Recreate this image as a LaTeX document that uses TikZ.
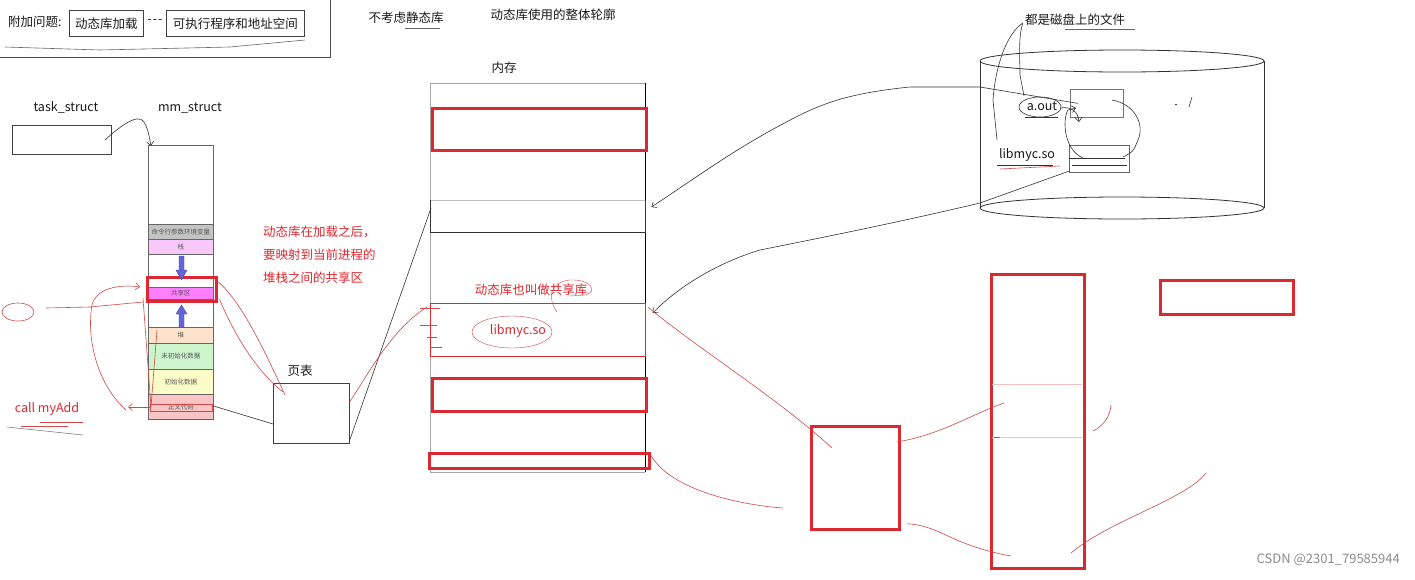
\documentclass[tikz,border=0pt]{standalone}
\usepackage{fontspec}
\setmainfont{Noto Sans CJK SC}
\usetikzlibrary{arrows.meta,calc}
\definecolor{rbox}{HTML}{DC2830}
\definecolor{scrib}{HTML}{D04848}
\definecolor{txt}{HTML}{1A1A1A}
\definecolor{cmdc}{HTML}{C4C4C4}
\definecolor{stackc}{HTML}{F8C8F8}
\definecolor{shrc}{HTML}{FF80FF}
\definecolor{heapc}{HTML}{FDE2CC}
\definecolor{bssc}{HTML}{CCF5CC}
\definecolor{datac}{HTML}{FCFCC8}
\definecolor{textc}{HTML}{F8C4C4}
\definecolor{bluec}{HTML}{6464D8}
\tikzset{
  lbl/.style={font=\fontsize{12.5}{14}\selectfont, text=txt, inner sep=0pt},
  redlbl/.style={font=\fontsize{12.5}{14}\selectfont, text=rbox, inner sep=0pt},
  tinylbl/.style={font=\fontsize{6.5}{7}\selectfont, text=black!65, inner sep=0pt},
  plainbox/.style={draw=black!75, line width=0.8pt, inner sep=0pt, anchor=north west},
  thickred/.style={draw=rbox, line width=2.6pt, inner sep=0pt, anchor=north west},
  thinred/.style={draw=rbox, line width=0.7pt, inner sep=0pt, anchor=north west},
  band/.style={draw=black!60, line width=0.6pt, inner sep=0pt, anchor=north west, minimum width=65},
  scr/.style={draw=scrib, line width=0.6pt},
  hand/.style={draw=black!80, line width=0.6pt},
  tip/.style={-{Straight Barb[length=4pt,width=7pt]}},
}
\begin{document}
\begin{tikzpicture}[x=1pt,y=-1pt]
\useasboundingbox[fill=white] (0,0) rectangle (1415,579);

% ---------- top-left question box ----------
\draw[black!70, line width=0.8pt] (0,57) -- (330,57) -- (330,0);
\node[lbl, anchor=west] (q) at (8,22) {附加问题:};
\node[plainbox, minimum width=74, minimum height=26] (qa) at (69,10) {};
\node[lbl] at (qa.center) {动态库加载};
\node[lbl] (dash) at (155,22) {{-}\kern1pt{-}\kern1pt{-}};
\node[plainbox, minimum width=138, minimum height=26] (qb) at (166,10) {};
\node[lbl] at (qb.center) {可执行程序和地址空间};
\draw[hand, black!60] (5,47) -- (100,50) -- (230,47) -- (305,40);

\node[lbl] (nostatic) at (406,18) {不考虑静态库};
\draw[hand, black!60] (405,28) -- (440,28);
\node[lbl] (title) at (553,15) {动态库使用的整体轮廓};

% ---------- task_struct / mm_struct ----------
\node[lbl] (tslbl) at (66,107) {task\_struct};
\node[plainbox, minimum width=99, minimum height=29] (task) at (12,125) {};
\node[lbl] (mmlbl) at (190,108) {mm\_struct};

\node[band, minimum height=79] (mmtop) at (148,145) {};
\node[band, minimum height=15, fill=cmdc] (cmd) at (148,224) {};
\node[tinylbl] at (cmd.center) {命令行参数环境变量};
\node[band, minimum height=15, fill=stackc] (stk) at (148,239) {};
\node[tinylbl] at (stk.center) {栈};
\node[band, minimum height=22] (gap1) at (148,254) {};
\node[band, minimum height=11] (shrtop) at (148,276) {};
\node[band, minimum height=12, fill=shrc] (shr) at (148,287) {};
\node[tinylbl] at (shr.center) {共享区};
\node[band, minimum height=28] (gap2) at (148,299) {};
\node[band, minimum height=16, fill=heapc] (heap) at (148,327) {};
\node[tinylbl] at (heap.center) {堆};
\node[band, minimum height=26, fill=bssc] (bss) at (148,343) {};
\node[tinylbl] at (bss.center) {未初始化数据};
\node[band, minimum height=25, fill=datac] (dat) at (148,369) {};
\node[tinylbl] at (dat.center) {初始化数据};
\node[band, minimum height=25, fill=textc] (code) at (148,394) {};
\node[tinylbl] at (code.center) {正文代码};
\draw[scrib, line width=0.5pt] (150,404) rectangle (212,411);
\node[thickred, minimum width=69, minimum height=24] (shrbox) at (146,276) {};

% blue arrows
\fill[bluec, draw=bluec!70!black, line width=0.4pt] (179,256) -- (184,256) -- (184,270) -- (187,270) -- (181.5,280) -- (176,270) -- (179,270) -- cycle;
\fill[bluec, draw=bluec!70!black, line width=0.4pt] (179,327) -- (184,327) -- (184,314) -- (187,314) -- (181.5,305) -- (176,314) -- (179,314) -- cycle;

% task -> mm
\draw[hand, tip] (105,140) .. controls (118,128) and (138,112) .. (144,122) .. controls (148,130) .. (151,146);

% ---------- red explanation ----------
\node[redlbl, anchor=west] (exp1) at (263,232) {动态库在加载之后，};
\node[redlbl, anchor=west] (exp2) at (263,255) {要映射到当前进程的};
\node[redlbl, anchor=west] (exp3) at (263,278) {堆栈之间的共享区};

% ---------- page table ----------
\node[lbl] (ptlbl) at (300,371) {页表};
\node[plainbox, minimum width=76, minimum height=60] (pt) at (273,383) {};
\draw[hand] (code.east |- 0,406) -- (pt.west |- 0,424);

% ---------- memory ----------
\node[lbl] (memlbl) at (504,68) {内存};
\draw[black!35, line width=0.8pt] (645,83) -- (430,83) -- (430,472) -- (645,472);
\draw[black, line width=0.9pt] (645,83) -- (645,472);
\node[thickred, minimum width=214, minimum height=42] (m1) at (431,107) {};
\node[inner sep=0pt, anchor=north west, minimum width=215, minimum height=32] (mblk) at (430,200) {};
\draw[black!25, line width=1pt] (mblk.north west) -- (mblk.north east);
\draw[black!80, line width=0.9pt] (mblk.south west) -- (mblk.south east) -- (mblk.north east);
\draw[black!80, line width=0.9pt] (mblk.south west) -- (mblk.north west);
\node[redlbl] (alias) at (531,290) {动态库也叫做共享库};
\node[thinred, minimum width=215, minimum height=53] (mlib) at (430,303) {};
\node[redlbl] (mlibtxt) at (518,331) {libmyc.so};
\draw[scrib] (512,332) ellipse [x radius=40, y radius=16];
\draw[scrib] (557,312) .. controls (548,300) and (548,282) .. (570,280) .. controls (592,279) and (598,292) .. (585,295) -- (570,296);
\node[thickred, minimum width=214, minimum height=33] (m3) at (431,377) {};
\node[thickred, minimum width=220, minimum height=15] (m4) at (428,452) {};
\coordinate (inA) at ($(mblk.north east)+(6,7)$);
\coordinate (inB) at ($(mlib.north east)+(7,10)$);

% page table -> memory
\draw[hand] ($(pt.south east)+(0,-4)$) -- ($(mblk.north west)+(1,8)$);

% ---------- disk ----------
\draw[black!80, line width=0.8pt] (1122,61) ellipse [x radius=142, y radius=11];
\draw[black!80, line width=0.8pt] (1122,208) ellipse [x radius=142, y radius=11];
\draw[black!80, line width=0.8pt] (980,61) -- (980,208);
\draw[black!80, line width=0.8pt] (1264,61) -- (1264,208);
\node[lbl] (disklbl) at (1075,20) {都是磁盘上的文件};
\draw[hand, black!60] (1065,29) -- (1135,29);
\node[lbl] (aout) at (1042,106) {a.out};
\draw[hand] (1040,107) ellipse [x radius=21, y radius=10];
\draw[hand, line width=0.9pt] (1025,117) -- (1058,117);
\node[plainbox, draw=black!55, minimum width=53, minimum height=28] (abox) at (1070,89) {};
\node[lbl] (libtxt) at (1027,155) {libmyc.so};
\draw[hand, line width=0.9pt] (997,165) -- (1053,165);
\draw[scr] (1000,169) -- (1060,166);
\node[plainbox, draw=black!60, minimum width=60, minimum height=27] (lbox) at (1069,145) {};
\draw[hand, line width=0.9pt] (lbox.west |- 0,158) -- (1125,158);
\draw[hand, line width=0.9pt] (1072,165) -- (1127,165);
\draw[hand] (1175,104) -- (1177,104);
\draw[hand] (1192,97) -- (1189,107);

% label -> files
\draw[hand] ($(disklbl.west)+(-2,3)$) .. controls (1018,38) and (1020,60) .. (1020,75) -- (1024,96);
\draw[hand] ($(disklbl.west)+(-2,3)$) .. controls (1005,35) and (995,70) .. (993,100) -- (997,140);
% inner curves
\draw[hand] (1112,100) .. controls (1135,104) and (1145,125) .. (1138,140) .. controls (1133,152) .. (1123,157);
\draw[hand, tip] (1083,158) .. controls (1064,150) and (1062,120) .. (1068,110) -- (1076,108);
\draw[hand, tip] (1060,108) .. controls (1072,106) and (1078,112) .. (1079,122);

% disk -> memory arrows
\draw[hand, tip] ($(abox.west)+(8,0)$) -- (980,87) -- (910,87) .. controls (860,92) and (830,100) .. (800,115) .. controls (740,145) and (700,175) .. (inA);
\draw[hand, tip] ($(lbox.south west)+(1,-2)$) -- (980,203) .. controls (900,222) and (820,238) .. (760,250) .. controls (720,262) and (680,285) .. (inB);

% ---------- right red boxes ----------
\node[thickred, minimum width=88, minimum height=103] (sbox) at (810,425) {};
\node[thickred, minimum width=93, minimum height=294] (tbox) at (990,273) {};
\draw[rbox!30, line width=1pt] (992,384) -- (1082,384);
\draw[rbox!30, line width=1pt] (992,437) -- (1082,437);
\draw[scrib] (994,437) -- (1000,437);
\node[thickred, minimum width=133, minimum height=34] (rbox1) at (1159,279) {};

% ---------- red scribbles ----------
% left side
\draw[scr] (18,312) ellipse [x radius=16, y radius=9];
\draw[scr] (46,308) -- (90,307) -- (143,302);
\draw[scr, tip] (126,410) .. controls (98,385) and (86,340) .. (92,305) .. controls (96,288) and (120,284) .. (140,287);
\draw[scr] (143,298) -- (151,407);
\draw[scr] (157,330) -- (151,407);
\draw[scr, tip] (150,407) -- (128,407);
\node[redlbl] (call) at (47,409) {call myAdd};
\draw[scr] (40,422) -- (83,422);
\draw[scr] (21,426) -- (68,426);
\draw[hand, black!50] (7,427) -- (83,435);
% shared -> page table
\draw[scr] ($(shrbox.east)+(0,-8)$) .. controls (240,300) and (262,345) .. (285,395);
\draw[scr] ($(shrbox.east)+(2,10)$) .. controls (232,330) and (255,370) .. (283,392);
% page table -> memory lib
\draw[scr] ($(pt.east)+(0,-12)$) .. controls (365,380) and (390,330) .. (427,307);
\draw[scr] (420,308) -- (440,308);
\draw[scr] (420,325) -- (437,325);
\draw[scr] (427,337) -- (437,337);
\draw[scr] (430,347) -- (442,347);
% memory -> right boxes
\draw[scr] ($(mlib.north east)+(2,4)$) .. controls (700,350) and (780,400) .. (832,448);
\draw[scr] ($(m4.east)+(0,-6)$) .. controls (670,490) and (740,505) .. (783,508);
\draw[scr] ($(sbox.north east)+(-4,17)$) .. controls (940,435) and (970,415) .. (1004,403);
\draw[scr] ($(sbox.east)+(6,46)$) .. controls (940,525) and (950,545) .. (1011,556);
\draw[scr] (1093,431) .. controls (1105,425) and (1110,415) .. (1111,405);
\draw[scr] (1071,553) .. controls (1110,520) and (1185,500) .. (1206,473);

% watermark
\node[font=\fontsize{13}{15}\selectfont, text=black!45, anchor=east, inner sep=0pt] (wm) at (1400,560) {CSDN @2301\_79585944};
\end{tikzpicture}
\end{document}
